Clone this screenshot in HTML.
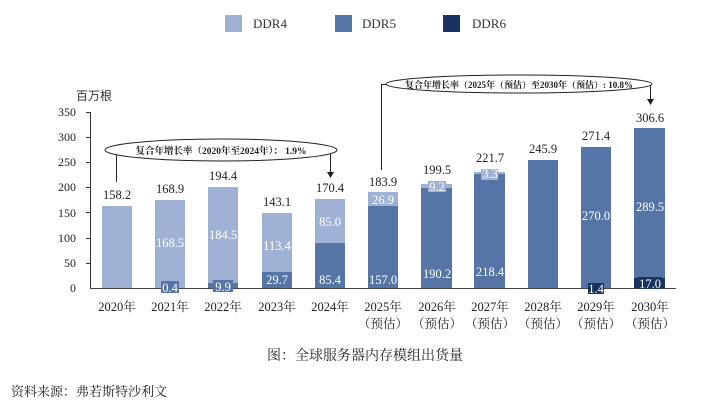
<!DOCTYPE html>
<html><head><meta charset="utf-8"><style>
html,body{margin:0;padding:0;background:#fff;}
svg{display:block;font-family:"Liberation Serif","Noto Serif CJK SC",serif;}
</style></head><body>
<svg width="720" height="404" viewBox="0 0 720 404" xmlns="http://www.w3.org/2000/svg">
<!-- legend -->
<rect x="225" y="15" width="17" height="17" fill="#9fb1d4"/>
<text x="253" y="28" font-size="13" fill="#333">DDR4</text>
<rect x="335" y="15" width="17" height="17" fill="#5475a6"/>
<text x="362" y="28" font-size="13" fill="#333">DDR5</text>
<rect x="443" y="15" width="17" height="17" fill="#1a3260"/>
<text x="472" y="28" font-size="13" fill="#333">DDR6</text>

<text x="76" y="100" font-size="12" fill="#333" font-family="Liberation Sans,Noto Sans CJK SC,sans-serif">百万根</text>
<!-- y axis -->
<g font-size="12" fill="#222" text-anchor="end">
<text x="76" y="292">0</text><text x="76" y="267">50</text><text x="76" y="242">100</text><text x="76" y="217">150</text>
<text x="76" y="191">200</text><text x="76" y="166">250</text><text x="76" y="141">300</text><text x="76" y="116">350</text>
</g>
<g stroke="#333" stroke-width="1">
<line x1="90.5" y1="112" x2="90.5" y2="288"/>
<line x1="86" y1="112.5" x2="90" y2="112.5"/><line x1="86" y1="137.5" x2="90" y2="137.5"/><line x1="86" y1="162.5" x2="90" y2="162.5"/>
<line x1="86" y1="187.5" x2="90" y2="187.5"/><line x1="86" y1="212.5" x2="90" y2="212.5"/><line x1="86" y1="238.5" x2="90" y2="238.5"/>
<line x1="86" y1="263.5" x2="90" y2="263.5"/>
</g>

<!-- bars -->
<g>
<rect x="102" y="206" width="30" height="82" fill="#9fb1d4"/>
<rect x="155" y="200" width="30" height="88" fill="#9fb1d4"/>
<rect x="208" y="187" width="30" height="96" fill="#9fb1d4"/>
<rect x="208" y="283" width="30" height="5" fill="#5475a6"/>
<rect x="262" y="213" width="30" height="59" fill="#9fb1d4"/>
<rect x="262" y="272" width="30" height="16" fill="#5475a6"/>
<rect x="315" y="199" width="30" height="44" fill="#9fb1d4"/>
<rect x="315" y="243" width="30" height="45" fill="#5475a6"/>
<rect x="368" y="192" width="30" height="14" fill="#9fb1d4"/>
<rect x="368" y="206" width="30" height="82" fill="#5475a6"/>
<rect x="421" y="184" width="31" height="4" fill="#9fb1d4"/>
<rect x="421" y="188" width="31" height="100" fill="#5475a6"/>
<rect x="474" y="172" width="31" height="2" fill="#9fb1d4"/>
<rect x="474" y="174" width="31" height="114" fill="#5475a6"/>
<rect x="528" y="160" width="30" height="128" fill="#5475a6"/>
<rect x="581" y="147" width="30" height="141" fill="#5475a6"/>
<rect x="634" y="128" width="31" height="150" fill="#5475a6"/>
<rect x="634" y="278" width="31" height="10" fill="#1a3260"/>
</g>
<line x1="90" y1="288.5" x2="676" y2="288.5" stroke="#444" stroke-width="1"/>
<!-- small label boxes -->
<rect x="161" y="281" width="18" height="12" fill="#5475a6"/>
<rect x="213" y="280" width="20" height="12" fill="#5475a6"/>
<rect x="428" y="181" width="18" height="11" fill="#9fb1d4"/>
<rect x="481" y="169" width="17" height="11" fill="#9fb1d4"/>
<rect x="588" y="283" width="16" height="11" fill="#1a3260"/>
<rect x="637" y="277" width="25" height="12" fill="#1a3260"/>

<g font-size="12.5" fill="#fff" text-anchor="middle">
<text x="170" y="247">168.5</text><text x="170" y="292">0.4</text>
<text x="223" y="239">184.5</text><text x="223" y="291">9.9</text>
<text x="277" y="250">113.4</text><text x="277" y="284">29.7</text>
<text x="330" y="226">85.0</text><text x="330" y="284">85.4</text>
<text x="383" y="204">26.9</text><text x="383" y="284">157.0</text>
<text x="437" y="191">9.2</text><text x="437" y="278">190.2</text>
<text x="490" y="178">3.3</text><text x="490" y="276">218.4</text>
<text x="596" y="220">270.0</text><text x="596" y="293">1.4</text>
<text x="650" y="211">289.5</text><text x="650" y="288">17.0</text>
</g>
<g font-size="12.5" fill="#222" text-anchor="middle">
<text x="117" y="199">158.2</text><text x="170" y="193">168.9</text><text x="223" y="180">194.4</text>
<text x="277" y="206">143.1</text><text x="330" y="192">170.4</text><text x="383" y="186">183.9</text>
<text x="437" y="174">199.5</text><text x="490" y="162">221.7</text><text x="543" y="153">245.9</text>
<text x="596" y="140">271.4</text><text x="650" y="122">306.6</text>
</g>

<!-- CAGR 1 -->
<g stroke="#222" stroke-width="1" fill="none">
<line x1="116.5" y1="155" x2="116.5" y2="182"/>
<line x1="330.5" y1="150" x2="330.5" y2="173"/>
<ellipse cx="221" cy="150" rx="116" ry="11" fill="#fff"/>
<line x1="381.5" y1="170" x2="381.5" y2="84"/>
<line x1="381" y1="84.5" x2="388" y2="84.5"/>
<line x1="650" y1="84.5" x2="650" y2="84.5"/>
<line x1="650.5" y1="84" x2="650.5" y2="100"/>
<ellipse cx="519" cy="84" rx="133" ry="9" fill="#fff"/>
</g>
<path d="M327 172 L334 172 L330.5 178 Z" fill="#222"/>
<path d="M647 99 L654 99 L650.5 105 Z" fill="#222"/>
<text x="221" y="154" font-size="9.5" font-weight="bold" text-anchor="middle" fill="#222">复合年增长率（2020年至2024年）：  1.9%</text>
<text x="519" y="88" font-size="9" font-weight="bold" text-anchor="middle" fill="#222">复合年增长率（2025年（预估）至2030年（预估）: 10.8%</text>

<!-- x labels -->
<g font-size="12.5" fill="#222" text-anchor="middle">
<text x="117" y="311">2020年</text><text x="170" y="311">2021年</text><text x="223" y="311">2022年</text>
<text x="277" y="311">2023年</text><text x="330" y="311">2024年</text><text x="383" y="311">2025年</text>
<text x="437" y="311">2026年</text><text x="490" y="311">2027年</text><text x="543" y="311">2028年</text>
<text x="596" y="311">2029年</text><text x="650" y="311">2030年</text>
<text x="383" y="328">（预估）</text><text x="437" y="328">（预估）</text><text x="490" y="328">（预估）</text>
<text x="543" y="328">（预估）</text><text x="596" y="328">（预估）</text><text x="650" y="328">（预估）</text>
</g>
<text x="365" y="360" font-size="14" text-anchor="middle" fill="#222">图：全球服务器内存模组出货量</text>
<text x="11" y="396" font-size="13" fill="#222">资料来源：弗若斯特沙利文</text>
</svg>
</body></html>
